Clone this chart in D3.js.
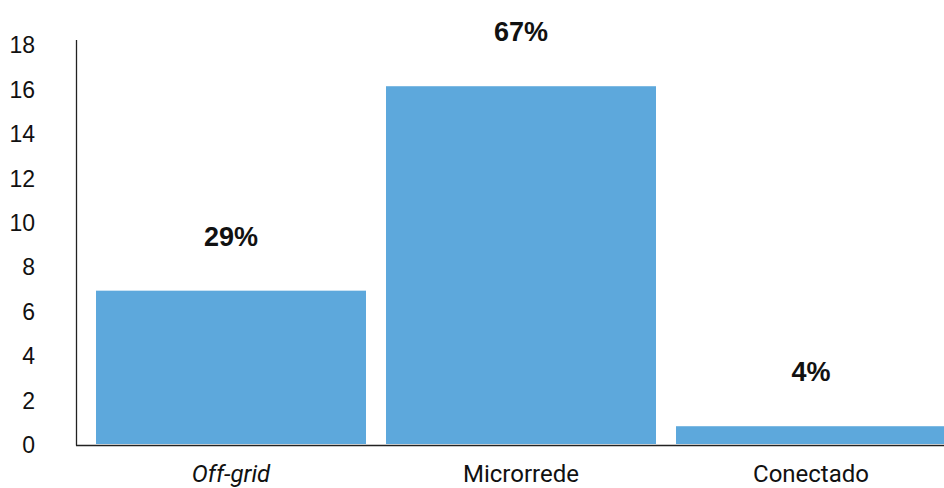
<!DOCTYPE html>
<html>
<head>
<meta charset="utf-8">
<script src="https://cdn.jsdelivr.net/npm/d3@7"></script>
<style>
  body { margin: 0; background: #fff; }
  svg { display: block; }
</style>
</head>
<body>
<script>
var categories = ['Off-grid', 'Microrrede', 'Conectado'];
var values = [6.9, 16.1, 0.8];
var shareLabels = ['29%', '67%', '4%'];
var yTicks = [0, 2, 4, 6, 8, 10, 12, 14, 16, 18];

var width = 944, height = 488;

var svg = d3.select("body").append("svg")
			.attr("width", width)
			.attr("height", height);

var x = d3.scaleBand()
				.domain(categories)
				.range([86, 956])
				.paddingInner(20/290)
				.paddingOuter(10/290);

var y = d3.scaleLinear()
				.domain([0, 18])
				.range([444, 44]);

// bars
svg.selectAll("rect.bar")
		.data(values)
		.enter().append("rect")
					.attr("class", "bar")
					.attr("x", function(d,i){ return x(categories[i]); })
					.attr("width", x.bandwidth())
					.attr("y", function(d){ return y(d); })
					.attr("height", function(d){ return y(0) - y(d); })
					.attr("fill", "#5da8dc");

// percentage labels
svg.selectAll("text.share")
		.data(shareLabels)
		.enter().append("text")
					.attr("class", "share")
					.attr("x", function(d,i){ return x(categories[i]) + x.bandwidth()/2; })
					.attr("y", function(d,i){ return y(values[i]) - 45; })
					.attr("text-anchor", "middle")
					.attr("font-family", "'Liberation Sans', Arial, sans-serif")
					.attr("font-weight", "bold")
					.attr("font-size", 27)
					.attr("fill", "#111")
					.text(function(d){ return d; });

// y axis
var yAxis = d3.axisLeft(y).tickValues(yTicks).tickSize(0).tickPadding(0);
var gy = svg.append("g")
		.attr("transform", "translate(35,0)")
		.call(yAxis);
gy.select(".domain").remove();
gy.selectAll("text")
		.attr("font-family", "'Liberation Sans', Arial, sans-serif")
		.attr("font-size", 23)
		.attr("fill", "#111")
		.attr("dy", "0.38em");

svg.append("line")
	.attr("x1", 76.5).attr("x2", 76.5)
	.attr("y1", 40).attr("y2", 445.5)
	.attr("stroke", "#222")
	.attr("stroke-width", 1.3);

// x axis
var xAxis = d3.axisBottom(x).tickSize(0).tickPadding(0);
var gx = svg.append("g")
		.attr("transform", "translate(0,445)")
		.call(xAxis);
gx.select(".domain").remove();
gx.selectAll("text")
		.attr("font-family", "Roboto, sans-serif")
		.attr("font-size", 24)
		.attr("fill", "#111")
		.attr("dy", "1.55em")
		.attr("font-style", function(d){ return d === 'Off-grid' ? "italic" : "normal"; });

svg.append("line")
	.attr("x1", 76).attr("x2", width)
	.attr("y1", 445.5).attr("y2", 445.5)
	.attr("stroke", "#222")
	.attr("stroke-width", 1.3);
</script>
</body>
</html>
